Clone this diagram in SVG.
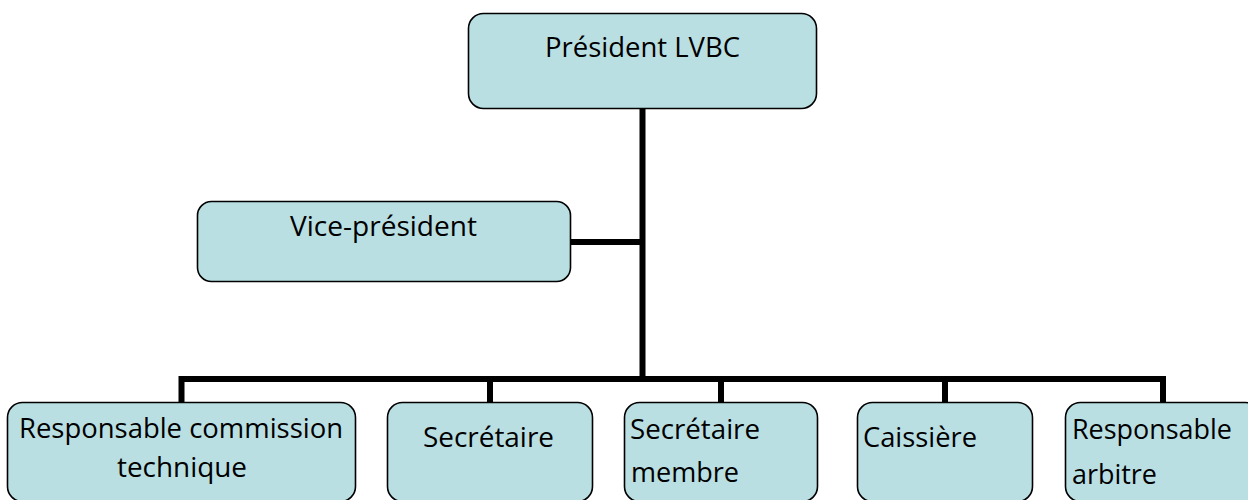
<svg xmlns="http://www.w3.org/2000/svg" width="1248" height="500" viewBox="0 0 1248 500">
<style>
.box{fill:#B9DFE3;stroke:#000;stroke-width:1.6}
.t{font-family:"Open Sans","Noto Sans",sans-serif;font-size:28px;fill:#000}
.c{fill:none;stroke:#000;stroke-width:6;stroke-linecap:butt;stroke-linejoin:miter}
</style>
<rect width="1248" height="500" fill="#fff"/>
<g id="connectors">
<path class="c" d="M642.5 109 V379"/>
<path class="c" d="M571 242 H642.5"/>
<path class="c" d="M181.5 402 V379 H1163 V402"/>
<path class="c" d="M490 379 V402"/>
<path class="c" d="M721 379 V402"/>
<path class="c" d="M945 379 V402"/>
</g>
<g id="president">
<rect class="box" x="468.5" y="13.5" width="348" height="95" rx="15"/>
<text class="t" x="545" y="57" textLength="195" lengthAdjust="spacingAndGlyphs">Président LVBC</text>
</g>
<g id="vice-president">
<rect class="box" x="197.5" y="201.5" width="373" height="80" rx="14"/>
<text class="t" x="290" y="236" textLength="187" lengthAdjust="spacingAndGlyphs">Vice-président</text>
</g>
<g id="resp-commission">
<rect class="box" x="7.5" y="402.5" width="348" height="99" rx="15"/>
<text class="t" x="19" y="438" textLength="324" lengthAdjust="spacingAndGlyphs">Responsable commission</text>
<text class="t" x="117" y="477" textLength="130" lengthAdjust="spacingAndGlyphs">technique</text>
</g>
<g id="secretaire">
<rect class="box" x="387.5" y="402.5" width="205" height="99" rx="15"/>
<text class="t" x="423" y="447" textLength="131" lengthAdjust="spacingAndGlyphs">Secrétaire</text>
</g>
<g id="secretaire-membre">
<rect class="box" x="624.5" y="402.5" width="193" height="99" rx="15"/>
<text class="t" x="630" y="439" textLength="130" lengthAdjust="spacingAndGlyphs">Secrétaire</text>
<text class="t" x="631" y="482" textLength="108" lengthAdjust="spacingAndGlyphs">membre</text>
</g>
<g id="caissiere">
<rect class="box" x="857.5" y="402.5" width="175" height="99" rx="15"/>
<text class="t" x="863" y="447" textLength="114" lengthAdjust="spacingAndGlyphs">Caissière</text>
</g>
<g id="resp-arbitre">
<rect class="box" x="1065.5" y="402.5" width="195" height="99" rx="15"/>
<text class="t" x="1072" y="439" textLength="160" lengthAdjust="spacingAndGlyphs">Responsable</text>
<text class="t" x="1072" y="484" textLength="85" lengthAdjust="spacingAndGlyphs">arbitre</text>
</g>
</svg>
